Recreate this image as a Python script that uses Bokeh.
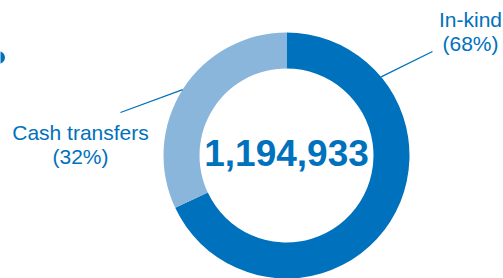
import numpy as np
from bokeh.plotting import figure
from bokeh.models import Range1d
from bokeh.core.properties import value
from bokeh.embed import file_html
from bokeh.resources import INLINE

categories = ["In-kind", "Cash transfers"]
shares = [68, 32]
total_label = "1,194,933"
colors = ["#0071BC", "#8AB6DB"]
text_color = "#0071BC"

W, H = 503, 278
p = figure(width=W, height=H, output_backend="svg", toolbar_location=None,
           x_range=Range1d(0, W), y_range=Range1d(0, H),
           min_border=0)
p.axis.visible = False
p.grid.visible = False
p.outline_line_color = None
p.background_fill_color = "white"

cx, cy = 286, 123
r_out, r_in = 123, 87

frac = np.array(shares, dtype=float) / sum(shares)
cum = np.concatenate([[0], np.cumsum(frac)])
# clockwise from 12 o'clock
start = np.pi / 2 - cum[:-1] * 2 * np.pi
end = np.pi / 2 - cum[1:] * 2 * np.pi
p.annular_wedge(x=cx, y=cy, inner_radius=r_in, outer_radius=r_out,
                start_angle=start, end_angle=end, direction="clock",
                fill_color=colors, line_color=None)

p.text(x=[cx], y=[126], text=[total_label], text_align="center",
       text_baseline="alphabetic", text_font=value("Liberation Sans"),
       text_font_style="bold", text_font_size="37px", text_color=text_color)

# labels
lab_x = [470, 80]
lab_y1 = [278 - 19, 278 - 132]
pct = [f"({s}%)" for s in shares]
p.text(x=lab_x, y=lab_y1, text=categories, text_align="center",
       text_baseline="alphabetic", text_font=value("Liberation Sans"),
       text_font_size="21px", text_color=text_color)
p.text(x=lab_x, y=[v - 24 for v in lab_y1], text=pct, text_align="center",
       text_baseline="alphabetic", text_font=value("Liberation Sans"),
       text_font_size="21px", text_color=text_color)

# small fragment of a cut-off mark at the left edge
p.scatter(x=[-2], y=[278 - 57], size=13, marker="circle",
          fill_color=text_color, line_color=None)

# leader lines: from ring edge to label
anchor_deg = [50.3, 360 * (cum[1] + frac[1] / 2)]
ends = [(432, 278 - 51), (120, 278 - 112)]
for a, (ex, ey) in zip(anchor_deg, ends):
    t = np.deg2rad(a)
    sx = cx + r_out * np.sin(t)
    sy = cy + r_out * np.cos(t)
    p.line([sx, ex], [sy, ey], line_color=text_color, line_width=1.3)

open("out.html", "w").write(file_html(p, INLINE))
